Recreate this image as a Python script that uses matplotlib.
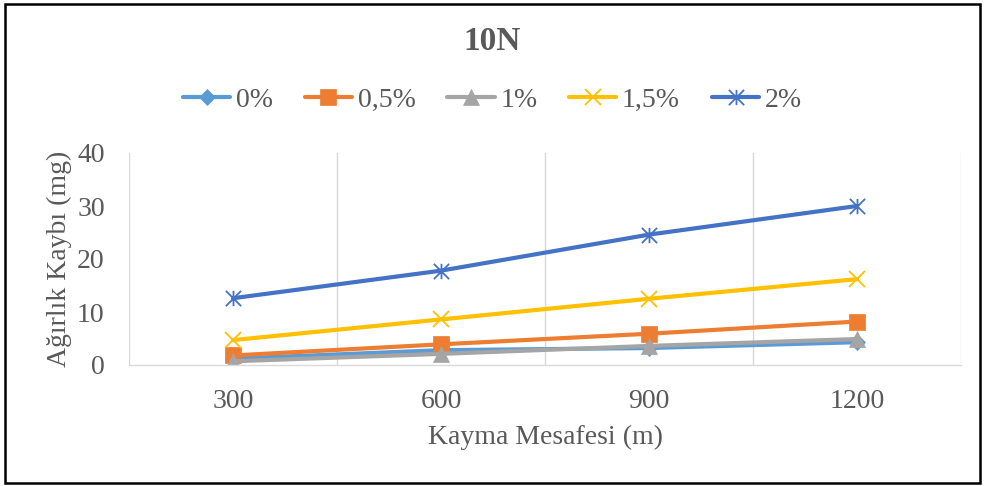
import matplotlib.pyplot as plt
from matplotlib.patches import Rectangle
from matplotlib.path import Path

# sliding distance categories and weight loss per additive ratio
distances = ["300", "600", "900", "1200"]
series_names = ["0%", "0,5%", "1%", "1,5%", "2%"]
loss_0 = [1.2, 2.8, 3.2, 4.3]
loss_05 = [1.8, 3.9, 5.9, 8.2]
loss_1 = [0.7, 2.1, 3.6, 4.9]
loss_15 = [4.7, 8.6, 12.5, 16.2]
loss_2 = [12.6, 17.8, 24.6, 30.0]

# asterisk marker: vertical bar crossed by an X
star = Path([(0, -1), (0, 1), (-1, -1), (1, 1), (-1, 1), (1, -1)],
            [Path.MOVETO, Path.LINETO] * 3)

colors = ["#5B9BD5", "#ED7D31", "#A5A5A5", "#FFC000", "#4472C4"]
markers = ["D", "s", "^", "x", star]
sizes = [8, 11, 11, 12, 11]

plt.rcParams['font.family'] = ['Liberation Serif', 'DejaVu Serif']

fig = plt.figure(figsize=(9.85, 4.86), dpi=100)
ax = fig.add_axes([129 / 985, 1 - 365 / 486, 832 / 985, 212 / 486])

x = list(range(len(distances)))
for i, (name, vals) in enumerate(zip(series_names, [loss_0, loss_05, loss_1, loss_15, loss_2])):
    thin = i >= 3
    ax.plot(x, vals, color=colors[i], lw=3, marker=markers[i], markersize=sizes[i],
            markeredgewidth=1.3 if thin else 0.5, markerfacecolor=colors[i],
            markeredgecolor=colors[i], label=name, solid_capstyle='round')

ax.set_xlim(-0.5, 3.5)
ax.set_ylim(0, 40)
ax.set_yticks([0, 10, 20, 30, 40])
ax.set_xticks(x)
ax.set_xticklabels(distances)
ax.set_xticks([-0.5, 0.5, 1.5, 2.5, 3.5], minor=True)
ax.grid(True, which='minor', axis='x', color='#D9D9D9', lw=1)
ax.tick_params(which='both', length=0)
ax.tick_params(axis='both', labelsize=20, colors='#595959')
ax.tick_params(axis='x', pad=17)
ax.tick_params(axis='y', pad=17.5)
for side in ['top', 'right', 'left']:
    ax.spines[side].set_visible(False)
ax.spines['bottom'].set_color('#D9D9D9')
ax.spines['bottom'].set_linewidth(1)

ax.set_xlabel("Kayma Mesafesi (m)", fontsize=20, color='#595959', labelpad=8)
ax.set_ylabel("Ağırlık Kaybı (mg)", fontsize=20, color='#595959', labelpad=4)

fig.text(0.5, 1 - 42 / 486, "10N", ha='center', va='center', fontsize=24,
         fontweight='bold', color='#595959')

fig.legend(loc='center', bbox_to_anchor=(0.5, 1 - 100 / 486), ncol=5, frameon=False,
           fontsize=20, handlelength=1.7, handletextpad=0.2, columnspacing=1.15,
           labelcolor='#595959')

fig.patches.append(Rectangle((5 / 985, 3 / 486), 975 / 985, 479 / 486,
                             transform=fig.transFigure, fill=False,
                             edgecolor='black', lw=1.8))

fig.savefig("out.png", dpi=100)
